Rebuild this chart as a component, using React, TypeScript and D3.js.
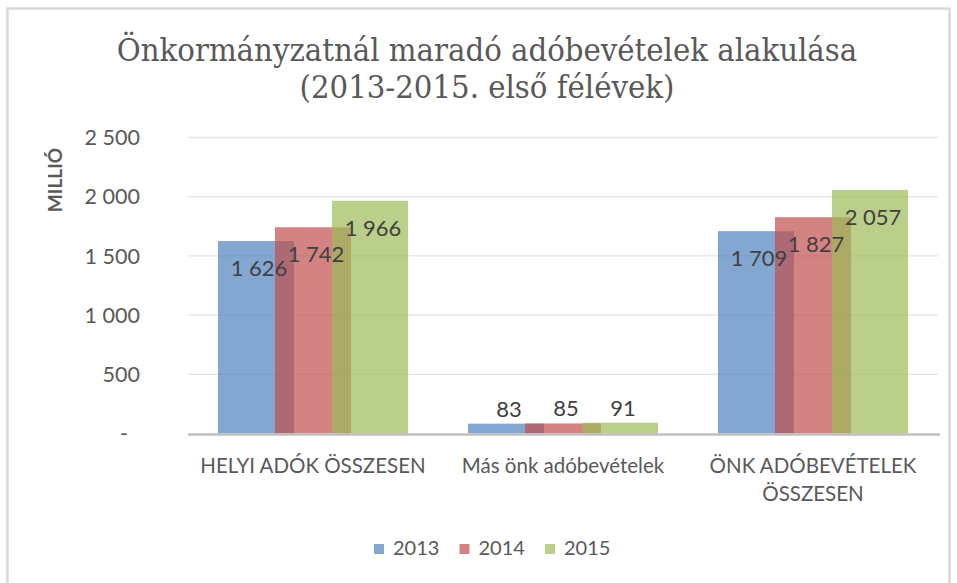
import React from "react";
import * as d3 from "d3";

const titleLines = ["Önkormányzatnál maradó adóbevételek alakulása", "(2013-2015. első félévek)"];
const categories = ["HELYI ADÓK ÖSSZESEN", "Más önk adóbevételek", "ÖNK ADÓBEVÉTELEK ÖSSZESEN"];
const categoryLines = [["HELYI ADÓK ÖSSZESEN"], ["Más önk adóbevételek"], ["ÖNK ADÓBEVÉTELEK", "ÖSSZESEN"]];
const seriesNames = ["2013", "2014", "2015"];
const values2013 = [1626, 83, 1709];
const values2014 = [1742, 85, 1827];
const values2015 = [1966, 91, 2057];
const seriesValues = [values2013, values2014, values2015];
const seriesColors = ["#4f81bd", "#c0504d", "#9bbb59"];
const yTicks = [0, 500, 1000, 1500, 2000, 2500];
const yAxisTitle = "MILLIÓ";

const W = 957;
const H = 583;
const plotLeft = 188;
const plotRight = 938;
const plotTop = 137.5;
const plotBottom = 433.5;
const sans = "Lato, 'Open Sans', sans-serif";

const fmt = (v: number) => (v === 0 ? "-" : d3.format(",")(v).replace(/,/g, " "));

export default function App() {
  const x0 = d3.scaleBand<string>().domain(categories).range([plotLeft, plotRight]).padding(0);
  const groupPad = 30;
  const barW = 76;
  const x1 = d3
    .scalePoint<string>()
    .domain(seriesNames)
    .range([0, x0.bandwidth() - 2 * groupPad - barW]);
  const y = d3.scaleLinear().domain([0, 2500]).range([plotBottom, plotTop]);

  return (
    <svg width={W} height={H} style={{ display: "block", position: "absolute", left: 0, top: 0 }}>
      <rect x={0} y={0} width={W} height={H} fill="#ffffff" />
      <rect x={7.5} y={8.5} width={942} height={H + 10} fill="#ffffff" stroke="#d9d9d9" strokeWidth={2.5} />

      {titleLines.map((t, i) => (
        <text
          key={i}
          x={487}
          y={61 + i * 37}
          textAnchor="middle"
          fontFamily="'DejaVu Serif Condensed', 'DejaVu Serif', serif"
          fontSize={32.5}
          fill="#595959"
        >
          {t}
        </text>
      ))}

      {yTicks.filter((t) => t > 0).map((t) => (
        <line key={t} x1={plotLeft} x2={plotRight} y1={y(t)} y2={y(t)} stroke="#e4e4e4" strokeWidth={1.3} />
      ))}

      {yTicks.map((t) => (
        <text
          key={t}
          x={t === 0 ? 128 : 140}
          y={y(t)}
          dy="0.36em"
          textAnchor="end"
          fontFamily={sans}
          fontSize={21.5}
          fill="#595959"
        >
          {fmt(t)}
        </text>
      ))}

      <text
        transform={`translate(62,180) rotate(-90)`}
        textAnchor="middle"
        fontFamily={sans}
        fontWeight={700}
        fontSize={19}
        fill="#595959"
      >
        {yAxisTitle}
      </text>

      {categories.map((c, ci) => (
        <g key={c}>
          {seriesNames.map((s, si) => {
            const v = seriesValues[si][ci];
            const bx = (x0(c) as number) + groupPad + (x1(s) as number);
            return (
              <rect
                key={s}
                x={bx}
                y={y(v)}
                width={barW}
                height={y(0) - y(v)}
                fill={seriesColors[si]}
                fillOpacity={0.7}
              />
            );
          })}
        </g>
      ))}

      {categories.map((c, ci) => (
        <g key={c + "-labels"}>
          {seriesNames.map((s, si) => {
            const v = seriesValues[si][ci];
            const bx = (x0(c) as number) + groupPad + (x1(s) as number);
            const top = y(v);
            const tall = y(0) - top > 40;
            return (
              <text
                key={s}
                x={bx + barW / 2 + 3}
                y={tall ? top + 27 : top - 15}
                dy="0.36em"
                textAnchor="middle"
                fontFamily={sans}
                fontSize={22}
                fill="#404040"
              >
                {fmt(v)}
              </text>
            );
          })}
        </g>
      ))}

      <line x1={plotLeft} x2={plotRight + 2} y1={plotBottom + 1} y2={plotBottom + 1} stroke="#bfbfbf" strokeWidth={2.5} />

      {categories.map((c, ci) => (
        <text
          key={c + "-x"}
          x={(x0(c) as number) + x0.bandwidth() / 2}
          y={473}
          textAnchor="middle"
          fontFamily={sans}
          fontSize={20.5}
          fill="#595959"
        >
          {categoryLines[ci].map((ln, li) => (
            <tspan key={li} x={(x0(c) as number) + x0.bandwidth() / 2} dy={li === 0 ? 0 : 28}>
              {ln}
            </tspan>
          ))}
        </text>
      ))}

      {seriesNames.map((s, si) => (
        <g key={s + "-leg"} transform={`translate(${374 + si * 85.5},0)`}>
          <rect x={0} y={544} width={10} height={10} fill={seriesColors[si]} fillOpacity={0.7} />
          <text x={19} y={555} fontFamily={sans} fontSize={20} fill="#595959">
            {s}
          </text>
        </g>
      ))}
    </svg>
  );
}
